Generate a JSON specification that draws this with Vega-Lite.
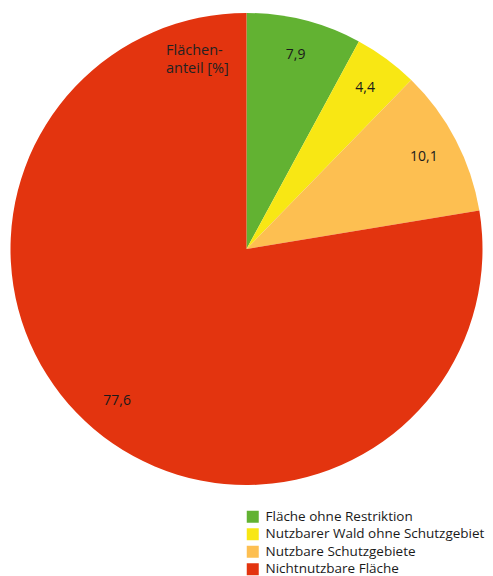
{
  "$schema": "https://vega.github.io/schema/vega-lite/v6.json",
  "width": 493,
  "height": 498,
  "autosize": "none",
  "padding": {"left": 0, "right": 0, "top": 0, "bottom": 78},
  "background": "white",
  "config": {"view": {"stroke": null}, "font": "Open Sans"},
  "title": {
    "text": ["Flächen-", "anteil [%]"],
    "anchor": "start",
    "orient": "top",
    "dx": 166,
    "dy": 80,
    "fontSize": 14.5,
    "fontWeight": "normal",
    "lineHeight": 18,
    "color": "#222222",
    "font": "Open Sans"
  },
  "data": {
    "values": [
      {"kategorie": "Fläche ohne Restriktion", "anteil": 7.9, "label": "7,9", "reihenfolge": 1},
      {"kategorie": "Nutzbarer Wald ohne Schutzgebiet", "anteil": 4.4, "label": "4,4", "reihenfolge": 2},
      {"kategorie": "Nutzbare Schutzgebiete", "anteil": 10.1, "label": "10,1", "reihenfolge": 3},
      {"kategorie": "Nichtnutzbare Fläche", "anteil": 77.6, "label": "77,6", "reihenfolge": 4}
    ]
  },
  "encoding": {
    "theta": {"field": "anteil", "type": "quantitative", "stack": true},
    "order": {"field": "reihenfolge", "type": "quantitative"}
  },
  "layer": [
    {
      "mark": {"type": "arc", "outerRadius": 236},
      "encoding": {
        "color": {
          "field": "kategorie",
          "type": "nominal",
          "scale": {
            "domain": ["Fläche ohne Restriktion", "Nutzbarer Wald ohne Schutzgebiet", "Nutzbare Schutzgebiete", "Nichtnutzbare Fläche"],
            "range": ["#62b232", "#f8e714", "#fdbf51", "#e3340f"]
          },
          "legend": {
            "orient": "none",
            "legendX": 246,
            "legendY": 510,
            "title": null,
            "symbolType": "square",
            "symbolSize": 144,
            "symbolStrokeWidth": 0,
            "symbolOpacity": 1,
            "labelFontSize": 13.5,
            "labelFont": "Open Sans",
            "labelColor": "#1a1a1a",
            "labelOffset": 6,
            "rowPadding": 2.5,
            "padding": 0,
            "labelLimit": 300
          }
        }
      }
    },
    {
      "mark": {"type": "text", "radius": 200, "fontSize": 14, "font": "Open Sans", "color": "#1a1a1a"},
      "encoding": {"text": {"field": "label"}}
    }
  ]
}
